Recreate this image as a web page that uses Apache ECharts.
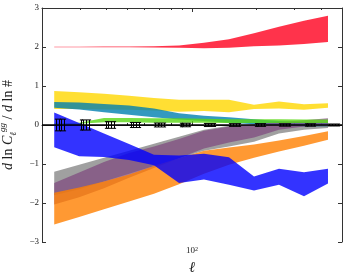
<!DOCTYPE html>
<html><head><meta charset="utf-8">
<script src="https://cdn.jsdelivr.net/npm/echarts@6/dist/echarts.min.js"></script>
<style>html,body{margin:0;padding:0;background:#fff}#c{width:349px;height:273px}</style>
</head><body><div id="c"></div>
<script>
// multipole bin centres
const ell = [22.8, 29.8, 38.9, 50.9, 66.5, 87.0, 113.7, 148.7, 194.5, 254.3, 332.6, 430.2];

const redLo    = [1.995, 1.995, 1.995, 1.995, 1.99, 1.98, 1.97, 1.98, 2.02, 2.04, 2.08, 2.13];
const redHi    = [2.008, 2.008, 2.01, 2.015, 2.02, 2.04, 2.11, 2.20, 2.35, 2.52, 2.67, 2.80];
const yellowLo = [0.41, 0.41, 0.40, 0.39, 0.37, 0.34, 0.36, 0.33, 0.41, 0.42, 0.39, 0.44];
const yellowHi = [0.875, 0.84, 0.80, 0.75, 0.69, 0.645, 0.645, 0.65, 0.52, 0.60, 0.53, 0.56];
const tealLo   = [0.44, 0.40, 0.33, 0.26, 0.20, 0.14, 0.10, 0.06, 0.02, -0.02, -0.05, -0.05];
const tealHi   = [0.59, 0.58, 0.54, 0.50, 0.42, 0.30, 0.24, 0.20, 0.15, 0.10, 0.07, 0.06];
const grayLo   = [-1.80, -1.65, -1.45, -1.25, -1.05, -0.85, -0.66, -0.55, -0.43, -0.22, -0.12, -0.08];
const grayHi   = [-1.20, -1.02, -0.84, -0.66, -0.48, -0.30, -0.12, -0.02, 0.0, 0.0, -0.02, 0.0];
const purpleLo = [-2.04, -1.85, -1.62, -1.35, -1.10, -0.85, -0.60, -0.45, -0.32, -0.12, -0.04, 0.0];
const purpleHi = [-1.49, -1.22, -0.95, -0.72, -0.55, -0.36, -0.15, -0.04, 0.02, 0.08, 0.12, 0.17];
const orangeLo = [-2.55, -2.36, -2.16, -1.96, -1.76, -1.52, -1.25, -1.02, -0.84, -0.68, -0.53, -0.38];
const orangeHi = [-1.74, -1.60, -1.45, -1.27, -1.05, -0.85, -0.66, -0.58, -0.50, -0.40, -0.28, -0.16];
const greenLo  = [0.02, 0.03, 0.07, 0.07, 0.06, 0.06, 0.06, 0.05, 0.05, 0.05, 0.05, 0.05];
const greenHi  = [0.04, 0.06, 0.18, 0.18, 0.17, 0.17, 0.16, 0.15, 0.15, 0.15, 0.14, 0.14];
const blueLo   = [-0.57, -0.80, -0.82, -0.90, -1.03, -1.49, -1.40, -1.53, -1.68, -1.53, -1.83, -1.50];
const blueHi   = [0.32, 0.05, -0.22, -0.49, -0.76, -0.78, -0.74, -0.83, -1.32, -1.12, -1.21, -1.12];

// fiducial error bars (half widths) around zero
const errHalf = [0.15, 0.13, 0.085, 0.065, 0.05, 0.045, 0.04, 0.035, 0.035, 0.03, 0.03, 0.025];

const yTicks = [-3, -2, -1, 0, 1, 2, 3];
const xMajorTicks = [100];
const xMinorTicks = [30, 40, 50, 60, 70, 80, 90, 200, 300, 400];

const bands = [
  {name: 'red',    lo: redLo,    hi: redHi,    color: 'rgba(255,0,30,0.8)'},
  {name: 'yellow', lo: yellowLo, hi: yellowHi, color: 'rgba(255,215,0,0.8)'},
  {name: 'teal',   lo: tealLo,   hi: tealHi,   color: 'rgba(0,128,176,0.8)'},
  {name: 'gray',   lo: grayLo,   hi: grayHi,   color: 'rgba(128,128,128,0.75)'},
  {name: 'purple', lo: purpleLo, hi: purpleHi, color: 'rgba(125,70,125,0.7)'},
  {name: 'orange', lo: orangeLo, hi: orangeHi, color: 'rgba(255,128,0,0.8)'},
  {name: 'green',  lo: greenLo,  hi: greenHi,  color: 'rgba(90,215,20,0.8)'},
  {name: 'blue',   lo: blueLo,   hi: blueHi,   color: 'rgba(0,0,255,0.8)'}
];

const axisColor = '#333';
const labelFont = 'Liberation Serif';

function bandSeries(b, idx) {
  return {
    type: 'custom', name: b.name, xAxisIndex: 0, yAxisIndex: 0,
    z: 2 + idx * 0.01, silent: true, animation: false, clip: true,
    data: ell.map((x, i) => [x, b.lo[i], b.hi[i]]),
    renderItem: function (params, api) {
      if (params.dataIndex !== 0) return null;
      const pts = [];
      for (let i = 0; i < ell.length; i++) pts.push(api.coord([ell[i], b.hi[i]]));
      for (let i = ell.length - 1; i >= 0; i--) pts.push(api.coord([ell[i], b.lo[i]]));
      return {type: 'polygon', shape: {points: pts}, style: {fill: b.color}};
    }
  };
}

const series = bands.map(bandSeries);

series.push({
  type: 'custom', name: 'errors', xAxisIndex: 0, yAxisIndex: 0, z: 5,
  silent: true, animation: false,
  data: ell.map((x, i) => [x, 0, errHalf[i]]),
  renderItem: function (params, api) {
    const x = api.value(0), e = api.value(2);
    const top = api.coord([x, e]), bot = api.coord([x, -e]);
    const offs = [1.5, 4.3, 7.2, 10];
    const children = [];
    const st = {stroke: '#000', lineWidth: 1};
    offs.forEach(o => {
      const cx = Math.round(top[0] + o) + 0.5;
      children.push({type: 'line', shape: {x1: cx, y1: top[1], x2: cx, y2: bot[1]}, style: st});
      children.push({type: 'line', shape: {x1: cx - 1.6, y1: top[1], x2: cx + 1.6, y2: top[1]}, style: st});
      children.push({type: 'line', shape: {x1: cx - 1.6, y1: bot[1], x2: cx + 1.6, y2: bot[1]}, style: st});
    });
    return {type: 'group', children: children};
  },
  markLine: {
    silent: true, symbol: 'none', animation: false,
    label: {show: false},
    lineStyle: {color: '#000', width: 1.5, type: 'solid'},
    data: [{yAxis: 0}]
  }
});

const xBase = {
  type: 'log', logBase: 10, min: 20, max: 500,
  splitLine: {show: false}, minorSplitLine: {show: false}
};

const option = {
  animation: false,
  backgroundColor: '#fff',
  grid: {left: 42, right: 7, top: 8, bottom: 31, containLabel: false, outerBoundsMode: 'none'},
  xAxis: [
    Object.assign({}, xBase, {
      position: 'bottom',
      axisLine: {show: true, lineStyle: {color: axisColor, width: 1}},
      axisTick: {show: true, inside: true, length: 4, customValues: xMajorTicks, lineStyle: {color: axisColor}},
      axisLabel: {show: true, customValues: xMajorTicks, margin: 4,
        formatter: () => '10{s|2}',
        fontFamily: labelFont, fontSize: 9, color: '#222',
        rich: {s: {fontSize: 6, verticalAlign: 'top', fontFamily: labelFont, color: '#222', padding: [0,0,4,0]}}},
      name: 'ℓ', nameLocation: 'middle', nameGap: 14,
      nameTextStyle: {fontFamily: labelFont, fontStyle: 'italic', fontSize: 15, color: '#222'}
    }),
    Object.assign({}, xBase, {
      position: 'bottom',
      axisLine: {show: false},
      axisTick: {show: true, inside: true, length: 2, customValues: xMinorTicks, lineStyle: {color: axisColor}},
      axisLabel: {show: false}
    }),
    Object.assign({}, xBase, {
      position: 'top',
      axisLine: {show: true, lineStyle: {color: axisColor, width: 1}},
      axisTick: {show: true, inside: true, length: 4, customValues: xMajorTicks, lineStyle: {color: axisColor}},
      axisLabel: {show: false}
    }),
    Object.assign({}, xBase, {
      position: 'top',
      axisLine: {show: false},
      axisTick: {show: true, inside: true, length: 2, customValues: xMinorTicks, lineStyle: {color: axisColor}},
      axisLabel: {show: false}
    })
  ],
  yAxis: [
    {
      type: 'value', min: -3, max: 3, interval: 1, position: 'left',
      splitLine: {show: false},
      axisLine: {show: true, lineStyle: {color: axisColor, width: 1}},
      axisTick: {show: true, inside: true, length: 4, lineStyle: {color: axisColor}},
      axisLabel: {show: true, margin: 3, fontFamily: labelFont, fontSize: 9, color: '#222',
        customValues: yTicks,
        formatter: v => (v < 0 ? '\u2212' + Math.abs(v) : String(v))},
      name: '{i|d} ln {i|C}{sub|ℓ}{sup|gg} / {i|d} ln #',
      nameLocation: 'middle', nameGap: 22, nameRotate: 90,
      nameTextStyle: {
        fontFamily: labelFont, fontSize: 14, color: '#222', lineHeight: 20,
        rich: {
          i: {fontFamily: labelFont, fontStyle: 'italic', fontSize: 14, color: '#222'},
          sub: {fontFamily: labelFont, fontStyle: 'italic', fontSize: 9, color: '#222', verticalAlign: 'bottom', lineHeight: 20},
          sup: {fontFamily: labelFont, fontStyle: 'italic', fontSize: 9, color: '#222', verticalAlign: 'top', lineHeight: 20}
        }
      }
    },
    {
      type: 'value', min: -3, max: 3, interval: 1, position: 'right',
      splitLine: {show: false},
      axisLine: {show: true, lineStyle: {color: axisColor, width: 1}},
      axisTick: {show: true, inside: true, length: 4, lineStyle: {color: axisColor}},
      axisLabel: {show: false}
    }
  ],
  series: series
};

const chart = echarts.init(document.getElementById('c'), null, {renderer: 'canvas'});
chart.setOption(option);
</script>
</body></html>
